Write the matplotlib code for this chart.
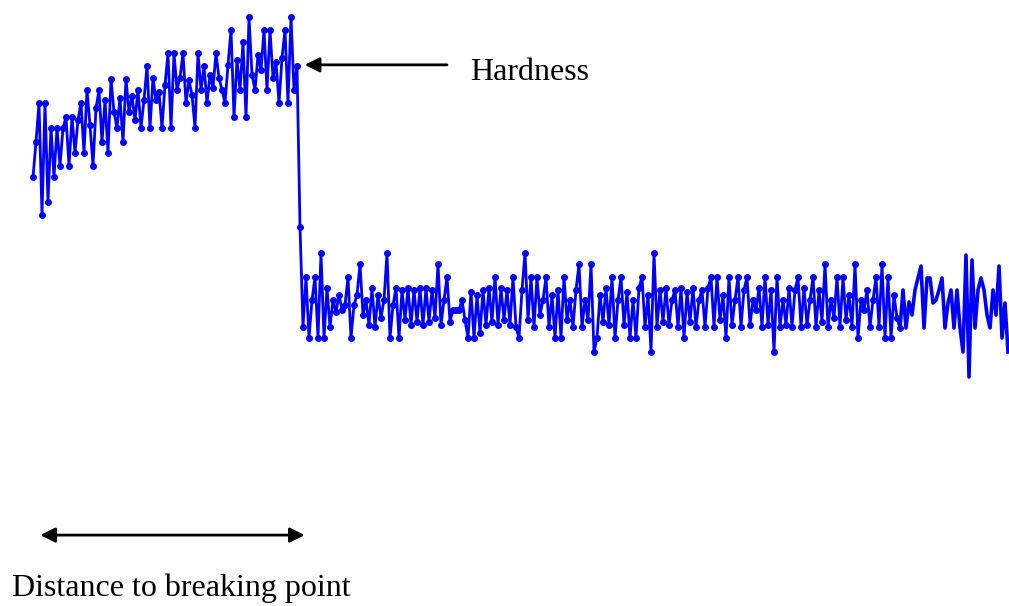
import numpy as np
import matplotlib
matplotlib.use("Agg")
import matplotlib.pyplot as plt

# hardness readings (arbitrary units), before the break
hard_before = [
    429, 464, 503, 391, 503, 404, 478, 429, 478, 440,
    478, 489, 440, 489, 453, 486, 503, 453, 516, 481,
    440, 498, 516, 464, 506, 453, 527, 494, 478, 508,
    464, 527, 494, 510, 486, 516, 478, 506, 540, 478,
    528, 506, 514, 478, 521, 553, 478, 553, 516, 528,
    553, 503, 526, 511, 478, 553, 516, 540, 503, 531,
    518, 553, 528, 516, 503, 541, 576, 489, 546, 516,
    564, 489, 589, 531, 516, 551, 536, 576, 516, 576,
    528, 544, 503, 548, 576, 503, 589, 516, 540,
]
hard_drop = [379]
# after the break
hard_after = [
    279, 329, 268, 306, 329, 268, 353, 268, 318, 279,
    306, 294, 311, 296, 301, 329, 268, 301, 311, 342,
    291, 306, 281, 318, 279, 311, 288, 306, 353, 268,
    301, 318, 268, 316, 286, 318, 281, 316, 284, 318,
    281, 318, 284, 316, 288, 342, 281, 306, 329, 284,
    296, 296, 296, 306, 286, 268, 314, 268, 311, 273,
    316, 281, 318, 284, 329, 281, 318, 286, 316, 281,
    329, 279, 268, 316, 353, 286, 329, 279, 329, 291,
    306, 329, 279, 311, 268, 316, 268, 329, 286, 306,
    279, 316, 342, 279, 306, 286, 342, 254, 268, 311,
    284, 318, 281, 329, 268, 306, 329, 281, 314, 268,
    306, 268, 318, 329, 279, 311, 254, 353, 279, 316,
    284, 318, 281, 306, 316, 279, 318, 268, 314, 284,
    318, 279, 306, 316, 279, 318, 329, 279, 329, 286,
    311, 268, 329, 281, 306, 329, 279, 316, 329, 281,
    306, 296, 318, 279, 329, 281, 316, 254, 329, 279,
    306, 281, 318, 279, 316, 329, 279, 318, 281, 306,
    329, 279, 316, 284, 342, 279, 306, 288, 329, 279,
    329, 286, 311, 279, 342, 268, 306, 296, 316, 279,
    306, 329, 279, 342, 268, 329, 268, 311, 288, 278,
]
# tail end, no point markers in the original
hard_tail = [
    316, 278, 304, 291, 316, 328, 340, 278, 328, 328,
    303, 306, 316, 328, 278, 303, 316, 278, 316, 278,
    254, 351, 229, 346, 278, 316, 328, 316, 291, 278,
    316, 291, 340, 268, 303, 254,
]

marked = hard_before + hard_drop + hard_after
x_marked = np.arange(len(marked))
x_tail = np.arange(len(marked) - 1, len(marked) + len(hard_tail))
tail = [marked[-1]] + hard_tail

fig = plt.figure(figsize=(10.09, 6.06), dpi=100)
ax = fig.add_axes([0, 0, 1, 1])
ax.plot(x_marked, marked, color="#0000ff", lw=2, marker="o", ms=4)
ax.plot(x_tail, tail, color="#0000ff", lw=2.6)
ax.set_xlim(-11, 325.33)
ax.set_ylim(0, 606)
ax.axis("off")

serif = ["Liberation Serif", "DejaVu Serif"]
ax.annotate("", xy=(0.302, 0.893), xytext=(0.443, 0.893),
            xycoords="figure fraction", textcoords="figure fraction",
            arrowprops=dict(arrowstyle="-|>", color="black", lw=2, mutation_scale=22,
                            shrinkA=0, shrinkB=0))
fig.text(0.466, 0.88, "Hardness", family=serif, fontsize=23, va="center", ha="left")

ax.annotate("", xy=(0.040, 0.117), xytext=(0.302, 0.117),
            xycoords="figure fraction", textcoords="figure fraction",
            arrowprops=dict(arrowstyle="<|-|>", color="black", lw=2, mutation_scale=22,
                            shrinkA=0, shrinkB=0))
fig.text(0.012, 0.03, "Distance to breaking point", family=serif, fontsize=23,
         va="center", ha="left")

fig.savefig("out.png", dpi=100)
